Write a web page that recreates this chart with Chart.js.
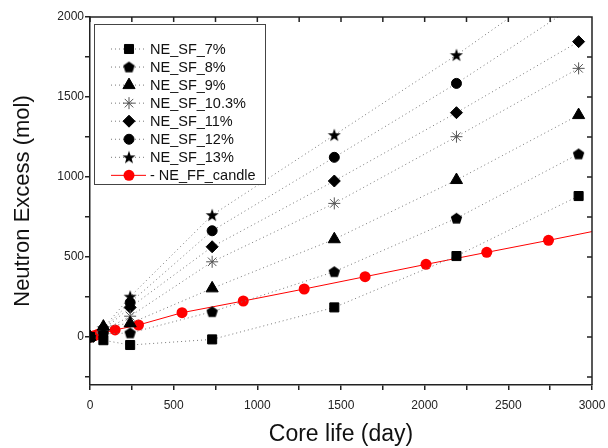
<!DOCTYPE html>
<html>
<head>
<meta charset="utf-8">
<script src="https://cdn.jsdelivr.net/npm/chart.js@4.4.1/dist/chart.umd.min.js"></script>
<style>
  html, body { margin: 0; padding: 0; background: #fff; }
  #wrap { width: 608px; height: 448px; }
</style>
</head>
<body>
<div id="wrap"><canvas id="chart"></canvas></div>
<script>
// --- data ---
const sfDays = [0, 80, 240, 730, 1460, 2190, 2920];
const sf7   = [0, -20, -50, -15, 185, 506, 881];
const sf8   = [0, 20, 25, 158, 408, 742, 1144];
const sf9   = [0, 65, 85, 304, 611, 981, 1387];
const sf103 = [0, 40, 130, 470, 835, 1252, 1679];
const sf11  = [0, 45, 185, 564, 975, 1402, 1846];
const sf12  = [0, 50, 215, 664, 1123, 1585, 2085];
const sf13  = [0, 55, 252, 762, 1262, 1762, 2300];

const candleDays = [0, 15, 30, 45, 60, 75, 150, 290, 550, 916, 1280, 1644, 2008, 2371, 2740, 3100];
const candleNE   = [0, 5, 10, 15, 20, 25, 44, 75, 152, 225, 300, 377, 454, 529, 604, 680];

const sfLabels = ['NE_SF_7%', 'NE_SF_8%', 'NE_SF_9%', 'NE_SF_10.3%', 'NE_SF_11%', 'NE_SF_12%', 'NE_SF_13%'];
const candleLabel = '- NE_FF_candle';
const xTicks = [0, 250, 500, 750, 1000, 1250, 1500, 1750, 2000, 2250, 2500, 2750, 3000];
const yTicks = [-250, 0, 250, 500, 750, 1000, 1250, 1500, 1750, 2000];

// --- custom markers ---
function shapeCanvas(size, pts) {
    const c = document.createElement('canvas');
    c.width = size; c.height = size;
    const g = c.getContext('2d');
    g.fillStyle = '#000';
    g.beginPath();
    pts.forEach((p, i) => i ? g.lineTo(p[0], p[1]) : g.moveTo(p[0], p[1]));
    g.closePath();
    g.fill();
    return c;
}
function polyPts(cx, cy, n, rOut, rIn) {
    const pts = [];
    const k = rIn ? n * 2 : n;
    for (let i = 0; i < k; i++) {
        const r = rIn && i % 2 ? rIn : rOut;
        const a = -Math.PI / 2 + i * Math.PI * 2 / k;
        pts.push([cx + r * Math.cos(a), cy + r * Math.sin(a)]);
    }
    return pts;
}
const pentagon = shapeCanvas(13, polyPts(6.5, 6.9, 5, 6));
const star5 = shapeCanvas(14, polyPts(7, 7.4, 5, 6.8, 2.8));

const styles = [
    { pointStyle: 'rect', radius: 6.4, color: '#000' },
    { pointStyle: pentagon, radius: 6, color: '#000' },
    { pointStyle: 'triangle', radius: 7, color: '#000' },
    { pointStyle: 'star', radius: 6, color: '#555' },
    { pointStyle: 'rectRot', radius: 6, color: '#000' },
    { pointStyle: 'circle', radius: 5, color: '#000' },
    { pointStyle: star5, radius: 7, color: '#000' }
];
const sfSeries = [sf7, sf8, sf9, sf103, sf11, sf12, sf13];

const datasets = sfSeries.map((vals, i) => ({
    label: sfLabels[i],
    data: sfDays.map((d, j) => ({ x: d, y: vals[j] })),
    borderColor: '#777',
    borderWidth: 1,
    borderDash: [1, 3],
    pointStyle: styles[i].pointStyle,
    pointRadius: styles[i].radius,
    pointBackgroundColor: styles[i].color,
    pointBorderColor: styles[i].color,
    pointBorderWidth: 1,
    tension: 0
}));
datasets.push({
    label: candleLabel,
    data: candleDays.map((d, j) => ({ x: d, y: candleNE[j] })),
    borderColor: '#ff0000',
    borderWidth: 1,
    pointStyle: 'circle',
    pointRadius: 5.5,
    pointBackgroundColor: '#ff0000',
    pointBorderColor: '#ff0000',
    pointBorderWidth: 0,
    tension: 0
});

// frame on top/right with inward ticks, and the boxed legend
const framePlugin = {
    id: 'frame',
    afterDatasetsDraw(chart) {
        const { ctx, chartArea: a, scales } = chart;
        ctx.save();
        ctx.strokeStyle = '#222';
        ctx.lineWidth = 1.5;
        ctx.beginPath();
        ctx.moveTo(a.left, a.top); ctx.lineTo(a.right, a.top); ctx.lineTo(a.right, a.bottom);
        scales.x.ticks.forEach(t => {
            const px = scales.x.getPixelForValue(t.value);
            ctx.moveTo(px, a.top); ctx.lineTo(px, a.top + 5);
        });
        scales.y.ticks.forEach(t => {
            const py = scales.y.getPixelForValue(t.value);
            ctx.moveTo(a.right, py); ctx.lineTo(a.right - 5, py);
        });
        ctx.stroke();

        // legend box
        const bx = 94, by = 24, bw = 171, bh = 160;
        ctx.fillStyle = '#fff';
        ctx.fillRect(bx, by, bw, bh);
        ctx.lineWidth = 1;
        ctx.strokeStyle = '#444';
        ctx.strokeRect(bx + 0.5, by + 0.5, bw, bh);
        ctx.font = '14.5px "Liberation Sans", Arial, sans-serif';
        ctx.textBaseline = 'middle';
        chart.data.datasets.forEach((ds, i) => {
            const y = 49 + i * 18.05;
            ctx.strokeStyle = ds.borderColor;
            ctx.setLineDash(ds.borderDash || []);
            ctx.beginPath();
            ctx.moveTo(111, y); ctx.lineTo(146, y);
            ctx.stroke();
            ctx.setLineDash([]);
            ctx.fillStyle = ds.pointBackgroundColor;
            ctx.strokeStyle = ds.pointBorderColor;
            Chart.helpers.drawPoint(ctx, {
                pointStyle: ds.pointStyle,
                radius: ds.pointRadius,
                borderWidth: ds.pointBorderWidth,
                rotation: 0
            }, 129, y);
            ctx.fillStyle = '#111';
            ctx.fillText(ds.label, 150, y + 1);
        });
        ctx.restore();
    }
};

const tickFont = { family: '"Liberation Sans", Arial, sans-serif', size: 12 };

new Chart(document.getElementById('chart').getContext('2d'), {
    type: 'line',
    data: { datasets },
    options: {
        responsive: true,
        maintainAspectRatio: false,
        animation: false,
        layout: { padding: { top: 17, right: 16, left: 0, bottom: 0 } },
        plugins: { legend: { display: false }, tooltip: { enabled: false } },
        scales: {
            x: {
                type: 'linear',
                min: 0, max: 3000,
                afterBuildTicks: s => { s.ticks = xTicks.map(v => ({ value: v })); },
                afterFit: s => { s.height = 63; s.paddingLeft = 0; s.paddingRight = 0; },
                ticks: {
                    color: '#222', font: tickFont, padding: 8, maxRotation: 0, autoSkip: false,
                    callback: v => (v % 500 === 0 ? String(v) : '')
                },
                grid: { drawOnChartArea: false, tickLength: 5, color: '#222', lineWidth: 1.5 },
                border: { color: '#222', width: 1.5 },
                title: {
                    display: true, text: 'Core life (day)', color: '#111',
                    font: { family: '"Liberation Sans", Arial, sans-serif', size: 23 },
                    padding: { top: 0, bottom: 0 }
                }
            },
            y: {
                type: 'linear',
                min: -300, max: 2000,
                afterBuildTicks: s => { s.ticks = yTicks.map(v => ({ value: v })); },
                afterFit: s => { s.width = 90; s.paddingTop = 0; s.paddingBottom = 0; },
                ticks: {
                    color: '#222', font: tickFont, padding: 1, autoSkip: false,
                    callback: v => (v % 500 === 0 ? String(v) : '')
                },
                grid: { drawOnChartArea: false, tickLength: 5, color: '#222', lineWidth: 1.5 },
                border: { color: '#222', width: 1.5 },
                title: {
                    display: true, text: 'Neutron Excess (mol)', color: '#111',
                    font: { family: '"Liberation Sans", Arial, sans-serif', size: 22 },
                    padding: { top: 10, bottom: 0 }
                }
            }
        }
    },
    plugins: [framePlugin]
});
</script>
</body>
</html>
